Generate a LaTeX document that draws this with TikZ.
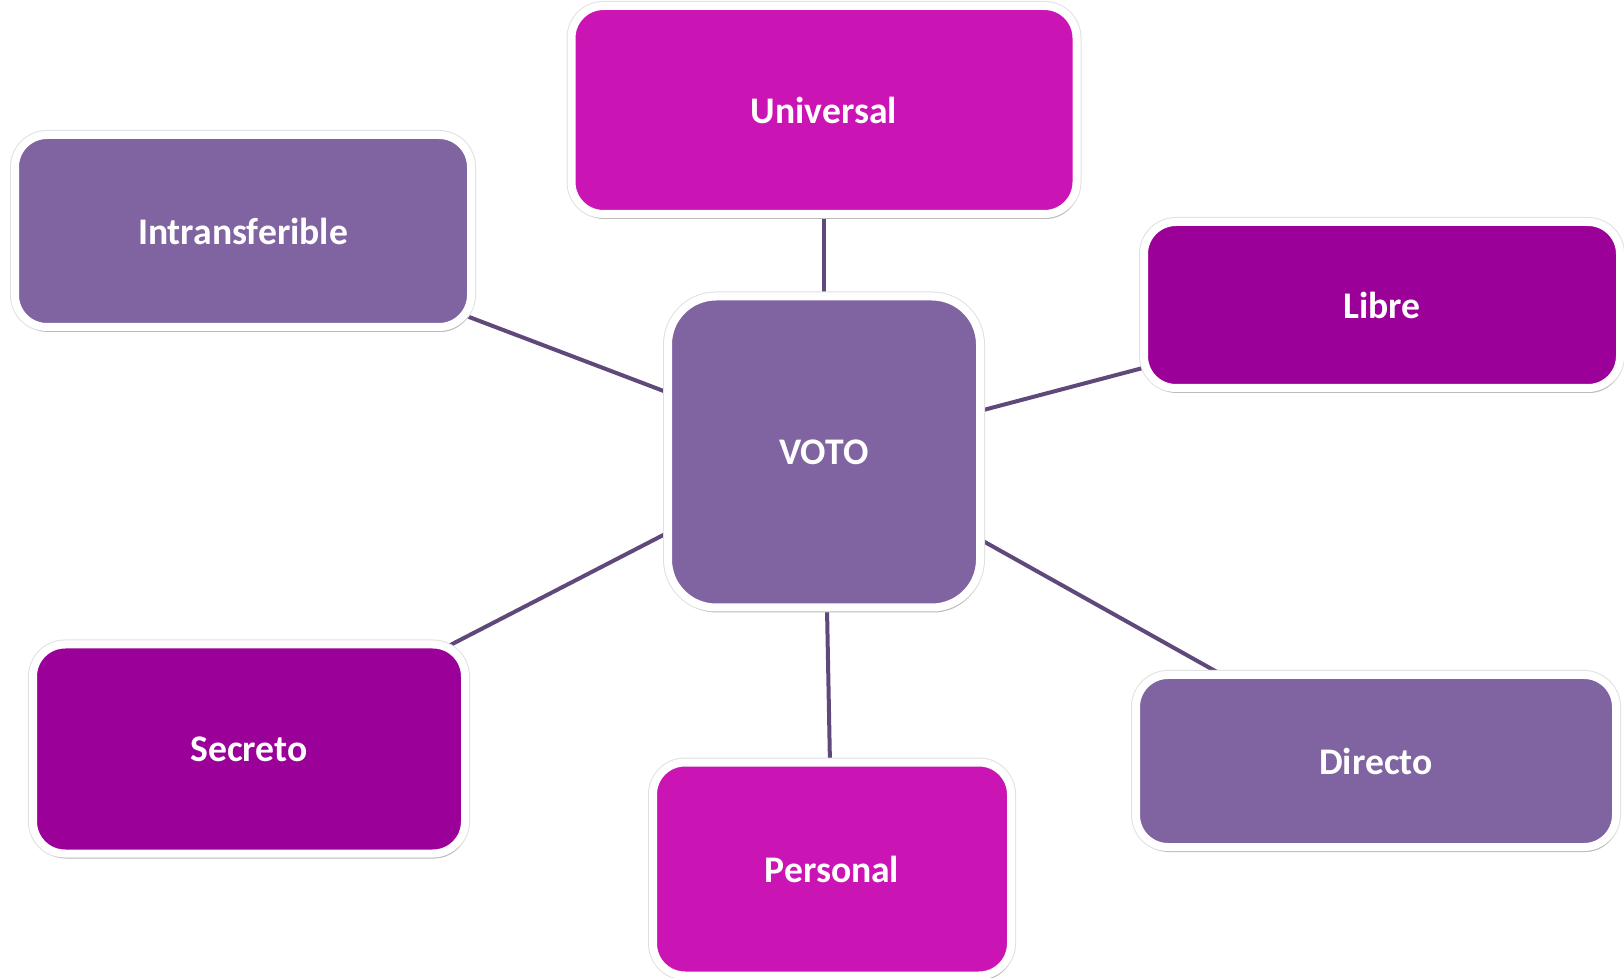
\documentclass[tikz,border=0pt]{standalone}
\usepackage{fontspec}
\setmainfont{Carlito}
\usetikzlibrary{shadows, backgrounds}

\definecolor{magenta1}{HTML}{CB14B4}
\definecolor{purple1}{HTML}{9B0099}
\definecolor{lavender1}{HTML}{8064A2}
\definecolor{linecol}{HTML}{5F497A}

\begin{document}
\begin{tikzpicture}[x=0.5pt, y=-0.5pt,
	box/.style={rectangle, draw=white, line width=4pt, rounded corners=16pt, text=white,
		font=\fontsize{18.8}{20}\selectfont\bfseries,
		preaction={draw=black!12, line width=5pt},
		drop shadow={shadow xshift=0.8pt, shadow yshift=-2.5pt, opacity=0.3, fill=black!60}},
	link/.style={draw=linecol, line width=2pt}]
			\useasboundingbox (0,0) rectangle (1624,978);
			
			\node[box, fill=lavender1, rounded corners=24pt, minimum width=156pt, minimum height=155.5pt] (voto) at (824,452) {VOTO};
			\node[box, fill=magenta1, minimum width=252.5pt, minimum height=104pt] (universal) at (824,110) {Universal};
			\node[box, fill=lavender1, minimum width=228pt, minimum height=96pt] (intrans) at (243,231) {Intransferible};
			\node[box, fill=purple1, minimum width=238pt, minimum height=83pt] (libre) at (1382,305) {Libre};
			\node[box, fill=purple1, minimum width=216pt, minimum height=104.5pt] (secreto) at (249,749) {Secreto};
			\node[box, fill=magenta1, minimum width=179pt, minimum height=106.5pt] (personal) at (832,869) {Personal};
			\node[box, fill=lavender1, minimum width=240pt, minimum height=86pt] (directo) at (1376,761) {Directo};
			
			\begin{scope}[on background layer]
				\draw[link] (voto.center) -- (universal.center);
				\draw[link] (voto.center) -- (intrans.center);
				\draw[link] (voto.center) -- (libre.center);
				\draw[link] (voto.center) -- (secreto.center);
				\draw[link] (voto.center) -- (personal.center);
				\draw[link] (voto.center) -- (directo.center);
			\end{scope}
		\end{tikzpicture}
\end{document}
